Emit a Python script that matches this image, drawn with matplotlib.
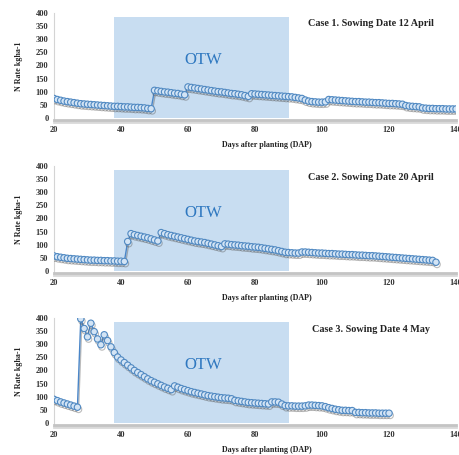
import numpy as np
from matplotlib import pyplot as plt
import matplotlib.patheffects as pe

# Case 1 - sowing 12 April, DAP 20..140
days_1 = np.arange(20, 141)
n_rate_1 = [74, 70, 67, 64, 62, 60, 58, 56, 54, 53,
            52, 51, 50, 49, 48, 47, 46, 45, 44, 44,
            43, 42, 42, 41, 40, 40, 39, 38, 36, 35,
            105, 103, 101, 99, 98, 96, 94, 93, 90, 88,
            118, 116, 114, 112, 110, 108, 106, 104, 102, 100,
            99, 97, 95, 93, 92, 90, 88, 85, 82,
            92, 91, 90, 89, 88, 87, 86, 85, 84, 83, 82, 81, 80, 78, 76, 74,
            68, 64, 62, 61, 60, 60, 61,
            70, 69, 68, 67, 66, 65, 64, 63, 62, 62, 61, 60, 60, 59, 58, 58,
            57, 56, 55, 55, 54, 53, 52,
            47, 45, 44, 43, 42,
            38, 37, 36, 36, 35, 35, 35, 34, 34, 34, 34]

# Case 2 - sowing 20 April, DAP 20..134
days_2 = np.arange(20, 135)
n_rate_2 = [57, 54, 52, 50, 48, 47, 46, 45, 44, 43, 42, 41, 41, 40, 40, 39,
            39, 38, 38, 37, 37, 36,
            112,
            142, 138, 135, 132, 129, 126, 122, 118, 114,
            146, 142, 138, 135, 132, 129, 126, 123, 120, 117, 114, 112, 110,
            108, 105, 102, 99, 96, 93,
            103, 102, 100, 99, 98, 96, 95, 94, 92, 91, 90, 88, 86, 84, 82,
            80, 77, 74, 71,
            70, 69, 68, 68, 72, 72, 71, 70, 69, 68, 68, 67, 66, 66, 65, 64,
            64, 63, 62, 62, 61, 60, 60, 59, 58, 58, 57, 56, 55, 54, 53, 52,
            51, 50, 49, 48, 47, 46, 45, 44, 43, 42, 41, 40, 33]

# Case 3 - sowing 4 May, DAP 20..120
days_3 = np.arange(20, 121)
n_rate_3 = [90, 85, 80, 76, 72, 68, 64, 60,
            397, 360, 328, 380, 348, 320, 298, 336, 314, 290, 268,
            251, 240, 230, 220, 210, 200, 192, 184, 176, 168, 161, 155, 149,
            143, 137, 132, 127,
            141, 136, 131, 127, 123, 119, 116, 113, 110, 107, 104, 102, 100,
            98, 96, 95, 94,
            92, 86, 84, 82, 80, 78, 77, 76, 75, 74, 73, 72, 80, 80, 79, 72, 66,
            65, 65, 64, 64, 64, 65, 68, 68, 67, 66, 65, 62, 58,
            55, 52, 50, 48, 48, 47, 47,
            40, 40, 39, 39, 38, 38, 38, 37, 37, 37, 37]

titles = ["Case 1. Sowing Date 12 April",
          "Case 2. Sowing Date 20 April",
          "Case 3. Sowing Date 4 May"]
otw_start, otw_end = 38, 90

serif = "Liberation Serif"

fig = plt.figure(figsize=(4.59, 4.55), dpi=100)
bottoms = [0.7363, 0.4000, 0.0659]

series = [(days_1, n_rate_1), (days_2, n_rate_2), (days_3, n_rate_3)]
for k, (d, v) in enumerate(series):
    ax = fig.add_axes([0.1176, bottoms[k], 0.876, 0.2352])
    ax.fill_between([otw_start, otw_end], 0, 385, color="#c8ddf1", lw=0, zorder=0)
    ax.text(64.5, 220, "OTW", color="#2f78c0", fontsize=12, family=serif,
            ha="center", va="center")
    ax.plot(d, v, color="#4a86c8", lw=1.0, marker="o", markersize=4.6,
            markerfacecolor="#d3e4f5", markeredgecolor="#5089c2",
            markeredgewidth=0.8, zorder=3,
            path_effects=[pe.SimpleLineShadow(offset=(0.8, -1.6), shadow_color="#555555", alpha=0.4),
                          pe.Normal()])
    ax.text(114.5, 358, titles[k], fontsize=7.3, fontweight="bold", family=serif,
            ha="center", va="center", color="#222222")

    ax.set_xlim(20, 140)
    ax.set_ylim(-8, 400)
    ax.set_xticks([20, 40, 60, 80, 100, 120, 140])
    ax.set_yticks(np.arange(0, 401, 50))
    ax.tick_params(length=0, labelsize=6, colors="#333333", pad=4)
    for lab in ax.get_xticklabels() + ax.get_yticklabels():
        lab.set_family(serif)
        lab.set_fontweight("bold")
    for s in ["top", "right"]:
        ax.spines[s].set_visible(False)
    ax.spines["left"].set_color("#d4d4d4")
    ax.spines["left"].set_linewidth(0.8)
    ax.spines["bottom"].set_color("#c4c4c4")
    ax.spines["bottom"].set_linewidth(2.0)
    ax.spines["bottom"].set_path_effects([pe.SimpleLineShadow(offset=(0, -1.2), alpha=0.15), pe.Normal()])
    ax.set_xlabel("Days after planting (DAP)", fontsize=5.8, fontweight="bold",
                  family=serif, color="#222222", labelpad=6)
    ax.xaxis.set_label_coords(0.53, -0.2)
    ax.set_ylabel("N Rate kgha-1", fontsize=5.8, fontweight="bold",
                  family=serif, color="#222222", labelpad=9)

fig.savefig("out.png", dpi=100)
